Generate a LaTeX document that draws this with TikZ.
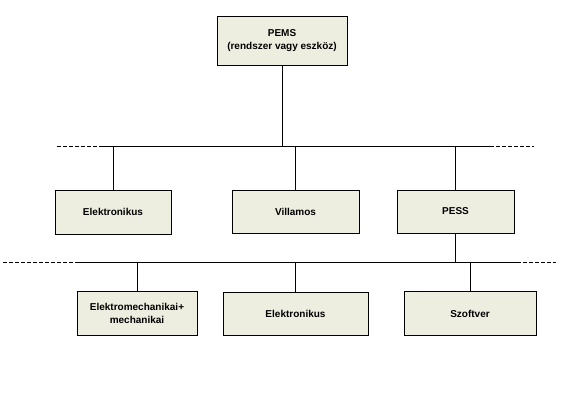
\documentclass[tikz,border=0pt]{standalone}
\usepackage{fontspec}
\setmainfont{Liberation Sans}
\definecolor{boxfill}{RGB}{238,238,224}

\begin{document}
\begin{tikzpicture}[x=1pt,y=-1pt,line width=0.9pt,
    unit/.style={draw,fill=boxfill,outer sep=0pt,inner sep=2pt,align=center,
        font=\fontsize{10}{12.5}\selectfont\bfseries},
    bus/.style={line width=0.9pt},
    busend/.style={line width=0.9pt,dash pattern=on 4pt off 2pt}]
        \useasboundingbox (0,0) rectangle (566,408);
        % top
        \node [unit, minimum width=130, minimum height=49] (pems) at (282, 40.5) {PEMS\\(rendszer vagy eszk\"oz)};
        % first level
        \node [unit, minimum width=116, minimum height=44] (elek) at (113, 212) {Elektronikus};
        \node [unit, minimum width=127, minimum height=43] (vill) at (295.5, 211.5) {Villamos};
        \node [unit, minimum width=117, minimum height=43] (pess) at (455.5, 211.5) {PESS};
        % second level
        \node [unit, minimum width=120, minimum height=44] (emech) at (137, 313.5) {Elektromechanikai+\\mechanikai};
        \node [unit, minimum width=145, minimum height=43] (elek2) at (295.5, 313.5) {Elektronikus};
        \node [unit, minimum width=132, minimum height=44] (szoft) at (470, 313.5) {Szoftver};
        % buses
        \coordinate (topL) at (57, 146);
        \coordinate (topSL) at (100, 146);
        \coordinate (topSR) at (490, 146);
        \coordinate (topR) at (534, 146);
        \coordinate (botL) at (3, 262);
        \coordinate (botSL) at (79, 262);
        \coordinate (botSR) at (517, 262);
        \coordinate (botR) at (556, 262);
        \draw [bus] (topSL) -- (topSR);
        \draw [busend] (topL) -- (topSL);
        \draw [busend] (topSR) -- (topR);
        \draw [bus] (botSL) -- (botSR);
        \draw [busend] (botL) -- (botSL);
        \draw [busend] (botSR) -- (botR);
        % connectors
        \draw (pems) -- (pems |- topL);
        \draw (elek) -- (elek |- topL);
        \draw (vill) -- (vill |- topL);
        \draw (pess) -- (pess |- topL);
        \draw (pess) -- (pess |- botL);
        \draw (emech) -- (emech |- botL);
        \draw (elek2) -- (elek2 |- botL);
        \draw (szoft) -- (szoft |- botL);
    \end{tikzpicture}
\end{document}
